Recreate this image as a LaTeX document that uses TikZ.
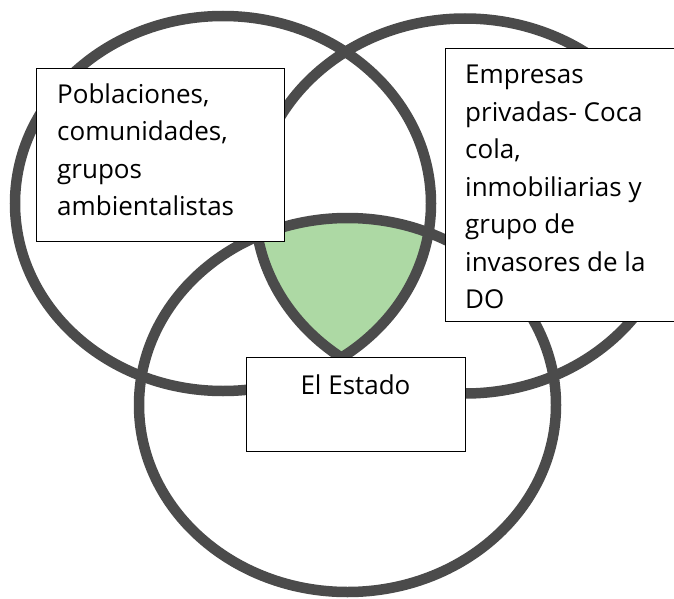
\documentclass[tikz,border=0pt]{standalone}
\usepackage{fontspec}
\setmainfont{Open Sans}
\definecolor{ringgray}{RGB}{75,75,75}
\definecolor{leafgreen}{RGB}{173,217,164}
\tikzset{
  ring/.style={draw=ringgray, line width=10.5pt},
  whitebox/.style={draw=black, fill=white, line width=1.1pt, rectangle, inner sep=0pt},
  blocktext/.style={inner sep=0pt, anchor=base west, font=\fontsize{26}{37.5}\selectfont},
}
\begin{document}
\begin{tikzpicture}[x=1pt, y=-1pt]
\useasboundingbox (0,0) rectangle (674,599);
\begin{scope}
\clip (0,0) rectangle (674,599);
% green triple intersection
\begin{scope}
  \clip (223,203.5) ellipse [x radius=208pt, y radius=187.5pt];
  \clip (465,206) ellipse [x radius=210pt, y radius=187.5pt];
  \fill[leafgreen] (347.5,405) ellipse [x radius=208.5pt, y radius=187pt];
\end{scope}
% three rings
\draw[ring] (223,203.5) ellipse [x radius=208pt, y radius=187.5pt];
\draw[ring] (465,206) ellipse [x radius=210pt, y radius=187.5pt];
\draw[ring] (347.5,405) ellipse [x radius=208.5pt, y radius=187pt];
% boxes
\node (pobbox) [whitebox, anchor=north west, minimum width=248pt, minimum height=173pt] at (36,68) {};
\node (empbox) [whitebox, anchor=north west, minimum width=240pt, minimum height=273pt] at (445,48) {};
\node (estbox) [whitebox, anchor=north west, minimum width=219pt, minimum height=94pt] at (246,357) {};
% texts
\node (pobtext) [blocktext] at (57,103.3) {\begin{tabular}[t]{@{}l@{}}Poblaciones,\\comunidades,\\grupos\\ambientalistas\end{tabular}};
\node (emptext) [blocktext] at (465,84) {\begin{tabular}[t]{@{}l@{}}Empresas\\privadas- Coca\\cola,\\inmobiliarias y\\grupo de\\invasores de la\\DO\end{tabular}};
\node (esttext) [inner sep=0pt, anchor=base, font=\fontsize{26}{37.5}\selectfont] at (355.5,394.3) {El Estado};
\end{scope}
\end{tikzpicture}
\end{document}
